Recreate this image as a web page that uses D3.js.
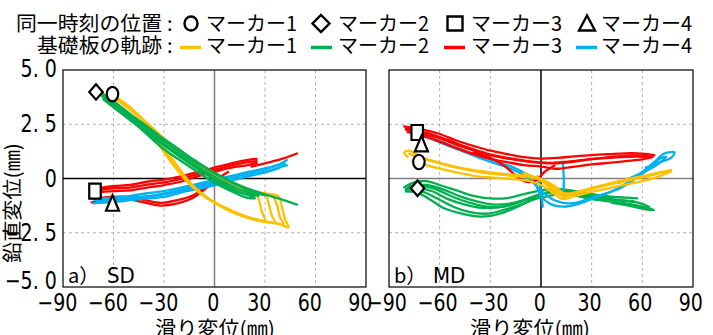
<!DOCTYPE html>
<html>
<head>
<meta charset="utf-8">
<script src="https://cdn.jsdelivr.net/npm/d3@7"></script>
<style>
  body { margin: 0; background: #fff; }
  svg { display: block; }
  .jp { font-family: "Noto Sans CJK JP", sans-serif; }
  .num { font-family: "Liberation Sans Narrow", "DejaVu Sans Condensed", "Liberation Sans", sans-serif; }
</style>
</head>
<body>
<svg id="chart" width="713" height="335"></svg>
<script>
// axis ticks
const xTicks = [-90, -60, -30, 0, 30, 60, 90];
const xTickLabels = ["−90", "−60", "−30", "0", "30", "60", "90"];
const yTicks = [5, 2.5, 0, -2.5, -5];
const yTickLabels = ["5. 0", "2. 5", "0", "−2. 5", "−5. 0"];
const markerNames = ["マーカー1", "マーカー2", "マーカー3", "マーカー4"];
const panelTags = ["SD", "MD"];
const panelLetters = ["a）", "b）"];

// marker positions at the same instant [slip, vertical]
const sdMarkerPos = [[-60.6, 3.89], [-70.4, 3.99], [-71, -0.58], [-60.6, -1.13]];
const mdMarkerPos = [[-72.3, 0.76], [-73.1, -0.45], [-73.3, 2.12], [-70.8, 1.61]];

// base plate trajectories, SD (each entry = one cycle)
const sdMarker1 = [
  [[-63,3.95],[-52,3.4],[-42,2.65],[-32,1.95],[-22,1.25],[-12,0.7],[-4,0.3],[5,-0.1],[15,-0.4],[24,-0.62],[26,-0.9],[28,-1.5],[30,-1.95],[22,-1.85],[11,-1.55],[0,-1.1],[-10,-0.6],[-18,0.0],[-26,0.78],[-32,1.45],[-36,1.85]],
  [[-60,3.8],[-50,3.25],[-40,2.55],[-30,1.85],[-20,1.15],[-10,0.6],[0,0.1],[10,-0.3],[20,-0.55],[30,-0.72],[32,-1.1],[34,-1.7],[36,-2.02],[27,-1.95],[15,-1.68],[3,-1.25],[-7,-0.75],[-15,-0.15],[-22,0.5],[-29,1.2],[-34,1.7]],
  [[-58,3.7],[-48,3.1],[-38,2.4],[-28,1.7],[-18,1.05],[-8,0.5],[2,0.0],[12,-0.38],[22,-0.6],[34,-0.78],[37,-1.2],[39,-1.8],[41,-2.1],[32,-2.0],[20,-1.78],[8,-1.4],[-3,-0.95],[-12,-0.4],[-19,0.25],[-25,0.9],[-31,1.5]],
  [[-62,3.85],[-50,3.15],[-38,2.35],[-27,1.6],[-17,1.0],[-6,0.4],[4,-0.05],[14,-0.42],[26,-0.68],[38,-0.82],[40,-1.3],[42,-1.9],[44,-2.25],[38,-2.08],[27,-1.95],[14,-1.65],[2,-1.2],[-8,-0.7],[-16,-0.1],[-23,0.6],[-30,1.3]]
];
const sdMarker2 = [
  [[-68,4.0],[-58,3.45],[-48,2.85],[-40,2.4],[-32,1.93],[-22,1.4],[-12,0.85],[-1,0.31],[9,-0.1],[19,-0.44],[28,-0.68],[38,-0.92],[49,-1.2]],
  [[-66,3.65],[-56,3.05],[-46,2.45],[-32,1.47],[-22,0.92],[-12,0.4],[-1,-0.15],[9,-0.55],[19,-0.88],[24,-0.92]],
  [[-67,3.8],[-57,3.25],[-47,2.65],[-37,2.0],[-27,1.42],[-17,0.9],[-7,0.4],[3,-0.05],[13,-0.45],[22,-0.7],[26,-0.8]],
  [[24,-0.8],[14,-0.62],[4,-0.25],[-6,0.25],[-16,0.78],[-26,1.3],[-36,1.85],[-46,2.45],[-56,3.05],[-65,3.6]],
  [[-67,3.9],[-57,3.35],[-47,2.75],[-37,2.12],[-27,1.55],[-17,1.02],[-7,0.55],[3,0.1],[13,-0.3],[22,-0.6],[30,-0.78]],
  [[-65,3.7],[-55,3.12],[-45,2.52],[-35,1.85],[-25,1.25],[-15,0.7],[-5,0.2],[5,-0.25],[15,-0.62],[23,-0.85]]
];
const sdMarker3 = [
  [[-70,-0.45],[-60,-0.35],[-50,-0.3],[-40,-0.15],[-30,-0.05],[-20,0.1],[-10,0.3],[0,0.5],[10,0.7],[19,0.85],[25,0.9]],
  [[-72,-0.65],[-60,-0.58],[-50,-0.55],[-40,-0.42],[-30,-0.3],[-20,-0.15],[-10,0.1],[0,0.3],[10,0.5],[20,0.62],[25,0.72]],
  [[-71,-0.55],[-60,-0.45],[-50,-0.42],[-40,-0.28],[-30,-0.18],[-20,-0.02],[-10,0.2],[0,0.4],[10,0.6],[20,0.75],[25,0.8]],
  [[-73,-1.1],[-62,-0.98],[-52,-0.95],[-42,-1.1],[-32,-1.25],[-22,-1.15],[-13,-0.9],[-5,-0.45],[2,0.0],[8,0.3]],
  [[-72,-0.95],[-62,-0.85],[-52,-0.85],[-42,-0.98],[-32,-1.12],[-22,-1.0],[-12,-0.75],[-4,-0.3],[4,0.1]],
  [[22,0.55],[30,0.7],[40,0.9],[49,1.15]]
];
const sdMarker4 = [
  [[-72,-0.95],[-60,-0.88],[-50,-0.8],[-40,-0.68],[-30,-0.58],[-20,-0.42],[-10,-0.25],[0,-0.06],[10,0.12],[20,0.3],[30,0.47],[38,0.62],[43,0.85]],
  [[-72,-1.15],[-60,-1.08],[-50,-1.0],[-40,-0.92],[-30,-0.85],[-20,-0.65],[-10,-0.48],[0,-0.32],[10,-0.1],[20,0.1],[30,0.28],[40,0.55],[43,0.6]],
  [[-70,-1.05],[-58,-0.98],[-45,-0.88],[-32,-0.72],[-20,-0.52],[-8,-0.3],[4,-0.1],[16,0.15],[28,0.38],[41,0.72]],
  [[-71,-1.0],[-58,-0.92],[-46,-0.85],[-34,-0.78],[-22,-0.6],[-10,-0.4],[2,-0.2],[14,0.02],[26,0.24],[38,0.48],[42,0.66]]
];

// base plate trajectories, MD
const mdMarker1 = [
  [[-79,1.0],[-81,1.2],[-78,1.28],[-70,0.95],[-60,0.72],[-50,0.52],[-40,0.38],[-30,0.28],[-20,0.2],[-10,0.14],[-2,0.05],[4,-0.2],[9,-0.55],[13,-0.8],[20,-0.7],[30,-0.48],[40,-0.28],[50,-0.1],[60,0.08],[70,0.25],[77,0.4]],
  [[77,0.32],[70,0.1],[60,-0.12],[50,-0.28],[40,-0.45],[30,-0.62],[20,-0.8],[13,-0.95],[6,-0.6],[0,-0.3],[-8,-0.1],[-18,-0.02],[-28,0.04],[-38,0.1],[-48,0.25],[-58,0.42],[-68,0.62],[-76,0.8]],
  [[-76,1.08],[-66,0.85],[-56,0.62],[-46,0.45],[-36,0.3],[-26,0.2],[-16,0.12],[-6,0.05],[2,-0.1],[9,-0.4],[14,-0.7],[22,-0.6],[32,-0.4],[42,-0.2],[52,-0.02],[62,0.14],[72,0.32]],
  [[-78,1.15],[-68,0.88],[-58,0.66],[-48,0.48],[-38,0.33],[-28,0.22],[-18,0.14],[-8,0.08],[0,-0.05],[7,-0.35],[12,-0.65],[18,-0.7],[28,-0.52],[38,-0.32],[48,-0.15],[58,0.02],[68,0.2],[76,0.36]],
  [[-3,0.05],[5,-0.35],[14,-0.9]],
  [[-10,0.25],[0,-0.1],[10,-0.7],[15,-0.85]]
];
const mdMarker2 = [
  [[-81,-0.4],[-76,-0.2],[-68,-0.12],[-60,-0.3],[-50,-0.55],[-40,-0.8],[-30,-0.92],[-20,-0.9],[-10,-0.72],[0,-0.55],[10,-0.48],[20,-0.58],[30,-0.72],[40,-0.82],[50,-0.88],[57,-0.92]],
  [[-80,-0.55],[-72,-0.7],[-65,-1.0],[-58,-1.35],[-48,-1.6],[-38,-1.75],[-30,-1.72],[-20,-1.5],[-10,-1.15],[0,-0.75],[10,-0.62],[20,-0.78],[30,-0.95],[40,-1.05],[50,-1.15],[60,-1.3],[67,-1.45],[62,-1.42],[52,-1.25],[42,-1.12]],
  [[-80,-0.48],[-72,-0.45],[-64,-0.6],[-55,-0.95],[-45,-1.2],[-35,-1.35],[-25,-1.32],[-15,-1.15],[-5,-0.85],[5,-0.62],[15,-0.65],[25,-0.8],[35,-0.9],[45,-0.98],[55,-1.05]],
  [[-78,-0.35],[-68,-0.3],[-58,-0.5],[-48,-0.82],[-38,-1.05],[-28,-1.2],[-18,-1.15],[-8,-0.95],[2,-0.7],[12,-0.55],[22,-0.68],[32,-0.82],[42,-0.9]],
  [[-79,-0.42],[-70,-0.35],[-62,-0.5],[-52,-0.85],[-42,-1.12],[-32,-1.3],[-22,-1.3],[-12,-1.05],[-2,-0.78],[8,-0.6],[18,-0.68],[28,-0.85],[38,-0.95],[48,-1.02],[58,-1.12],[64,-1.3]],
  [[-80,-0.6],[-70,-0.62],[-62,-0.9],[-52,-1.3],[-42,-1.55],[-32,-1.62],[-22,-1.45],[-12,-1.2],[-2,-0.92],[8,-0.75]]
];
const mdMarker3 = [
  [[-81,2.4],[-70,2.25],[-60,2.05],[-50,1.75],[-40,1.5],[-30,1.28],[-20,1.12],[-10,0.98],[0,0.92],[10,0.95],[20,1.02],[30,1.08],[40,1.12],[50,1.16],[60,1.15],[67,1.08]],
  [[-79,2.15],[-70,1.95],[-60,1.7],[-50,1.4],[-40,1.12],[-30,0.9],[-20,0.75],[-10,0.62],[0,0.55],[10,0.45],[20,0.55],[30,0.65],[40,0.72],[50,0.8],[60,0.88],[66,0.98]],
  [[-80,2.3],[-68,2.1],[-56,1.8],[-44,1.45],[-32,1.15],[-20,0.95],[-8,0.8],[4,0.72],[16,0.78],[28,0.88],[40,0.95],[52,1.0],[62,1.0]],
  [[-80,2.25],[-70,2.05],[-60,1.85],[-50,1.55],[-40,1.3],[-30,1.08],[-20,0.92],[-10,0.8],[0,0.72],[10,0.7],[20,0.78],[30,0.9],[40,0.98],[50,1.05],[60,1.05],[66,1.0]],
  [[-40,1.2],[-30,0.95],[-22,0.6],[-15,0.15],[-9,-0.15],[-3,-0.1],[2,0.3],[8,0.6]]
];
const mdMarker4 = [
  [[-80,2.35],[-70,2.05],[-60,1.72],[-50,1.42],[-40,1.12],[-30,0.88],[-20,0.62],[-12,0.35],[-5,0.0],[0,-0.8],[5,-1.15],[13,-1.3],[23,-1.15],[33,-0.85],[43,-0.55],[52,-0.15],[60,0.3],[67,0.75],[73,1.15],[79,1.2],[77,0.95],[70,0.75],[62,0.5]],
  [[-78,2.2],[-68,1.95],[-58,1.6],[-48,1.3],[-38,1.0],[-28,0.72],[-18,0.45],[-8,0.05],[0,-0.55],[8,-1.0],[18,-1.15],[28,-0.95],[38,-0.7],[48,-0.4],[56,0.0],[64,0.45],[70,0.9],[74,1.0],[68,0.6],[58,0.2],[46,-0.2]],
  [[-2,0.1],[0,-0.6],[1,-1.3]],
  [[13,0.7],[13.5,-0.2],[13,-0.85]]
];

const colors = ["#FFC000", "#00B050", "#FF0000", "#00B0F0"];
const svg = d3.select("#chart");
const plotTop = 70, plotBottom = 287;

const panels = [
  { left: 63, right: 366, loops: [sdMarker1, sdMarker2, sdMarker3, sdMarker4], marks: sdMarkerPos,
    order: [2, 3, 0, 1], vZero: "#808080", hZero: "#000", xlabelX: 215, tickDx: -7, yAxis: true },
  { left: 389, right: 693, loops: [mdMarker1, mdMarker2, mdMarker3, mdMarker4], marks: mdMarkerPos,
    order: [1, 3, 2, 0], vZero: "#000", hZero: "#808080", xlabelX: 530, tickDx: -3, yAxis: false }
];

function markerPath(type, w, h) {
  const a = w / 2, b = h / 2;
  if (type === 0) return `M${-a},0A${a},${b} 0 1,0 ${a},0A${a},${b} 0 1,0 ${-a},0Z`;
  if (type === 1) return `M0,${-b}L${a},0L0,${b}L${-a},0Z`;
  if (type === 2) return `M${-a},${-b}H${a}V${b}H${-a}Z`;
  return `M0,${-b}L${a},${b}H${-a}Z`;
}
const markerSize = [[11.5, 14.5], [13.5, 15.5], [11.5, 15], [13, 15.5]];

panels.forEach((p, pi) => {
  const x = d3.scaleLinear().domain([-90, 90]).range([p.left, p.right]);
  const y = d3.scaleLinear().domain([-5, 5]).range([plotBottom, plotTop]);
  const g = svg.append("g");

  // grid
  g.selectAll(".gx").data(xTicks.filter(d => d !== 0 && Math.abs(d) !== 90)).enter().append("line")
    .attr("x1", d => x(d)).attr("x2", d => x(d)).attr("y1", plotTop).attr("y2", plotBottom)
    .attr("stroke", "#b4b4b4").attr("stroke-dasharray", "3,3").attr("stroke-width", 1);
  g.selectAll(".gy").data(yTicks.filter(d => d !== 0 && Math.abs(d) !== 5)).enter().append("line")
    .attr("x1", p.left).attr("x2", p.right).attr("y1", d => y(d)).attr("y2", d => y(d))
    .attr("stroke", "#b4b4b4").attr("stroke-dasharray", "3,3").attr("stroke-width", 1);

  // zero lines
  g.append("line").attr("x1", x(0)).attr("x2", x(0)).attr("y1", plotTop).attr("y2", plotBottom)
    .attr("stroke", p.vZero).attr("stroke-width", 1.5);
  g.append("line").attr("x1", p.left).attr("x2", p.right).attr("y1", y(0)).attr("y2", y(0))
    .attr("stroke", p.hZero).attr("stroke-width", 1.5);

  // trajectories
  const line = d3.line().x(d => x(d[0])).y(d => y(d[1])).curve(d3.curveCatmullRom.alpha(0.5));
  p.order.forEach(si => {
    g.append("g").selectAll("path").data(p.loops[si]).enter().append("path")
      .attr("d", line).attr("fill", "none").attr("stroke", colors[si])
      .attr("stroke-width", 2.3).attr("stroke-linejoin", "round").attr("stroke-linecap", "round");
  });

  // markers
  p.marks.forEach((m, i) => {
    g.append("path").attr("d", markerPath(i, markerSize[i][0], markerSize[i][1]))
      .attr("transform", `translate(${x(m[0])},${y(m[1])})`)
      .attr("fill", "#fff").attr("stroke", "#000").attr("stroke-width", 2.2);
  });

  // frame
  g.append("rect").attr("x", p.left).attr("y", plotTop).attr("width", p.right - p.left).attr("height", plotBottom - plotTop)
    .attr("fill", "none").attr("stroke", "#000").attr("stroke-width", 1.2);

  // x axis
  const xa = g.append("g").attr("transform", `translate(0,${plotBottom})`)
    .call(d3.axisBottom(x).tickValues(xTicks).tickFormat((d, i) => xTickLabels[i]).tickSize(0));
  xa.select(".domain").remove();
  xa.selectAll("text").attr("class", "num").attr("font-size", 24).attr("fill", "#000")
    .attr("transform", "scale(0.88,1)")
    .attr("y", 15.5).attr("dy", "0.36em")
    .attr("dx", d => d === 0 ? -2 : p.tickDx);

  // y axis
  if (p.yAxis) {
    const ya = g.append("g").attr("transform", `translate(${p.left},0)`)
      .call(d3.axisLeft(y).tickValues(yTicks).tickFormat((d, i) => yTickLabels[i]).tickSize(0).tickPadding(7));
    ya.select(".domain").remove();
    ya.selectAll("text").attr("class", "num").attr("font-size", 24).attr("fill", "#000")
      .attr("transform", "scale(0.88,1)")
      .attr("y", d => d === -5 ? -7 : (d === 5 ? -2 : -1)).attr("dy", "0.36em");
  }

  // panel tag
  g.append("text").attr("class", "jp").attr("x", p.left + 5).attr("y", 283)
    .attr("font-size", 20).text(panelLetters[pi]);
  g.append("text").attr("class", "num").attr("x", p.left + 44).attr("y", 283)
    .attr("font-size", 22).text(panelTags[pi]);

  // x label
  g.append("text").attr("class", "jp").attr("x", p.xlabelX).attr("y", 336)
    .attr("text-anchor", "middle").attr("font-size", 20)
    .attr("textLength", 120).attr("lengthAdjust", "spacingAndGlyphs").text("滑り変位(㎜)");
});

// y label
svg.append("text").attr("class", "jp").attr("transform", "translate(11.5,203) rotate(-90)")
  .attr("text-anchor", "middle").attr("dominant-baseline", "central").attr("font-size", 20)
  .attr("textLength", 120).attr("lengthAdjust", "spacingAndGlyphs").text("鉛直変位(㎜)");

// legend
const legend = svg.append("g").attr("class", "jp").attr("font-size", 20);
legend.append("text").attr("x", 16).attr("y", 22).attr("dominant-baseline", "central")
  .attr("textLength", 146).attr("lengthAdjust", "spacingAndGlyphs").text("同一時刻の位置");
legend.append("text").attr("x", 37).attr("y", 44).attr("dominant-baseline", "central")
  .attr("textLength", 125).attr("lengthAdjust", "spacingAndGlyphs").text("基礎板の軌跡");
legend.append("text").attr("x", 167).attr("y", 22).attr("dominant-baseline", "central").text(":");
legend.append("text").attr("x", 167).attr("y", 44).attr("dominant-baseline", "central").text(":");

const legendMarkX = [191, 321, 455, 587];
const legendTextX = [206, 338, 471, 601];
const legendLineX = [180, 311, 444, 576];
const legendMarkSize = [[13, 14], [17, 17], [15, 14], [16, 15]];
markerNames.forEach((name, i) => {
  legend.append("path").attr("d", markerPath(i, legendMarkSize[i][0], legendMarkSize[i][1]))
    .attr("transform", `translate(${legendMarkX[i]},${i === 3 ? 23 : 23.5})`)
    .attr("fill", "#fff").attr("stroke", "#000").attr("stroke-width", 2.4);
  legend.append("text").attr("x", legendTextX[i]).attr("y", 22).attr("dominant-baseline", "central")
    .attr("textLength", 91).attr("lengthAdjust", "spacingAndGlyphs").text(name);
  legend.append("line").attr("x1", legendLineX[i]).attr("x2", legendLineX[i] + 21)
    .attr("y1", 47.5).attr("y2", 47.5).attr("stroke", colors[i]).attr("stroke-width", 3.5);
  legend.append("text").attr("x", legendTextX[i]).attr("y", 44).attr("dominant-baseline", "central")
    .attr("textLength", 91).attr("lengthAdjust", "spacingAndGlyphs").text(name);
});
</script>
</body>
</html>
